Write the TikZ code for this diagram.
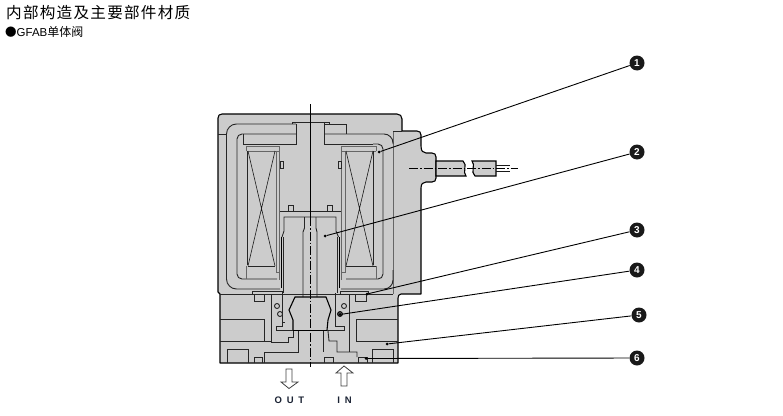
\documentclass[tikz,border=0pt]{standalone}
\usepackage{fontspec}
\setmainfont{Liberation Sans}
\newfontfamily\cjk{Noto Sans CJK SC}
\definecolor{bodygray}{HTML}{CCCCCC}
\definecolor{lab}{HTML}{1A2233}
\tikzset{
  edge/.style={draw=black,line width=1.1pt},
  inner/.style={draw=black!85,line width=.9pt},
  soft/.style={draw=black!60,line width=1pt},
  thin/.style={draw=black!90,line width=.6pt},
  center/.style={draw=black,line width=.7pt,dash pattern=on 9pt off 2pt on 1.5pt off 2pt},
  leader/.style={draw=black,line width=.9pt},
  badge/.style={circle,fill=black!90,text=white,minimum size=15pt,inner sep=0pt,font=\fontsize{10}{10}\selectfont\bfseries},
  tipdot/.style={circle,fill=black,minimum size=3pt,inner sep=0pt},
  hollow/.style={draw=black!75,fill=white,line width=.8pt,line join=miter},
  portlab/.style={text=lab,font=\fontsize{9.5}{10}\selectfont\bfseries}
}
\begin{document}
\begin{tikzpicture}[x=1pt,y=-1pt]
\useasboundingbox (0,0) rectangle (783,415);
% texts
\node[anchor=west,inner sep=0pt] (title) at (6,13) {\cjk\fontsize{15.6}{16}\selectfont\addfontfeatures{LetterSpace=8}内部构造及主要部件材质};
\node[anchor=west,inner sep=0pt] (sub) at (5,31.5) {\fontsize{11.5}{12}\selectfont\cjk ●\rmfamily GFAB\cjk\fontsize{12}{12}\selectfont 单体阀};
% body
\path[edge,fill=bodygray,line join=round]
  (218,118) .. controls (218,115.5) and (219.5,114) .. (222,114) -- (397,114) .. controls (400,114) and (402,116) .. (402,119)
  -- (402,131) -- (417,131) .. controls (419.5,131) and (421,132.5) .. (421,135)
  -- (421,146) .. controls (421,151) and (423,153) .. (426,153) -- (432,153) .. controls (434.5,153) and (436,154.5) .. (436,157)
  -- (436,178) .. controls (436,180.5) and (434.5,182) .. (432,182) -- (426,182)
  .. controls (423,182) and (421,184) .. (421,188) -- (421,294) -- (401,294)
  .. controls (399,294) and (398,296) .. (398,298) -- (398,363) -- (220,363) -- (220,294)
  -- (218,292) -- cycle;
% cable
\path[edge,fill=bodygray] (436,161) -- (463,161) .. controls (468,165) and (462,172) .. (466,176) -- (436,176) -- cycle;
\path[edge,fill=bodygray] (475,161) -- (496,161) -- (496,176) -- (475,176) .. controls (470,172) and (476,165) .. (472,161) -- cycle;
\draw[thin] (496,165) -- (510,165) (496,171) -- (510,171);
% block seam
\draw[soft] (393,131) -- (393,294);
\draw[inner] (393,131) -- (402,131);
\draw[inner] (220,294) -- (252,294) (282,294) -- (340,294) (368,294) -- (393,294);
% frame
\draw[inner] (218,134) -- (226.5,134);
\draw[inner,rounded corners=10pt] (280,289) -- (226.5,289) -- (226.5,124) -- (296,124);
\draw[inner,rounded corners=5pt] (277,279) -- (237,279) -- (237,134) -- (296,134);
\draw[inner] (296,124) -- (296,144) -- (243.5,144) -- (243.5,134);
\draw[inner] (292,124) -- (292,122) -- (329,122) -- (329,124);
\draw[inner] (324,122) -- (324,144) -- (373,144) (324,124) -- (346,124) -- (346,134);
\draw[inner,rounded corners=9pt] (324,134) -- (393,134) -- (393,144);
\draw[inner,rounded corners=5pt] (373,144) -- (383,144) -- (383,279) -- (346,279);
\draw[inner,rounded corners=9pt] (393,270) -- (393,289) -- (341,289);
% coils
\draw[soft] (246.5,279) -- (246.5,266) (246.5,151) -- (246.5,146) -- (279.5,146) -- (279.5,280) (246.5,151) -- (279.5,151) (276,151) -- (276,272) -- (279,272);
\draw[inner] (247.5,151) -- (247.5,265) (247.5,266) -- (275,266);
\draw[thin] (248,151) -- (275,266) (275,151) -- (248,266);
\draw[soft] (376,279) -- (376,266) (376,151) -- (376,146) -- (341,146) -- (341,280) (376,151) -- (341,151) (345,151) -- (345,272) -- (341,272);
\draw[inner] (373,151) -- (373,265) (346,266) -- (376,266);
\draw[thin] (346,151) -- (373,266) (373,151) -- (346,266);
\draw[inner] (280,161) rectangle (283,168) (338,161) rectangle (341,168);
% core
\draw[inner] (280,211) -- (341,211);
\draw[inner] (288,211) -- (288,205.5) -- (293,205.5) -- (293,211) (327,211) -- (327,205.5) -- (332,205.5) -- (332,211);
% plunger
\draw[inner] (282,237) -- (284,231) -- (284,217) -- (336,217) -- (336,231) -- (338.5,237);
\draw[inner] (304.5,217) -- (304.5,228) -- (303,232) -- (303,297) (316,217) -- (316,228) -- (317,232) -- (317,297);
\draw[draw=black,line width=1.5pt] (281.5,237) -- (281.5,288) (339.5,237) -- (339.5,288);
\draw[inner] (283.5,237) -- (283.5,293) (337,237) -- (337,293);
% gaskets
\draw[inner,fill=bodygray] (252,291.5) rectangle (282,294) (340,291.5) rectangle (368,294);
\draw[inner] (254,294) rectangle (264,301) (355,294) rectangle (366,301);
% poppet
\draw[edge] (293,330) -- (293,320) -- (289,310) -- (295,297) -- (326,297) -- (331,310) -- (328,320) -- (327,330);
\draw[inner] (276,330) -- (344,330) -- (344,326) -- (335,326) -- (335,293);
\draw[inner] (276,330) -- (276,326) -- (282,326) -- (282,322) -- (285,322) (282,322) -- (282,294);
\draw[edge] (293,330.5) -- (327,330.5);
% chambers and ports
\draw[inner] (271,294) -- (271,342) -- (288,342) -- (288,337) -- (293,337) -- (293,331);
\draw[inner] (298,331) -- (298,352) -- (264,352) -- (264,363);
\draw[inner] (323,331) -- (323,352);
\draw[inner] (328,331) -- (329,341) -- (337,341) -- (337,352) -- (349,352) -- (357,352) -- (357,357);
\draw[inner] (349,294) -- (349,352);
\draw[inner] (220,319) -- (264,319) -- (264,341) -- (220,341) (264,341) -- (271,341);
\draw[inner] (398,319) -- (356,319) -- (356,341) -- (398,341);
\draw[inner] (227,363) -- (227,349) -- (248,349) -- (248,363) (372,363) -- (372,349) -- (393,349) -- (393,363);
\draw[inner] (254,363) -- (254,357) -- (262,357) -- (262,363) (324,363) -- (324,357) -- (333,357) -- (333,363) (358,363) -- (358,357) -- (367,357) -- (367,363);
% spring
\draw[inner] (277,306) circle[radius=2.5] (280,314) circle[radius=2.5] (344,306) circle[radius=2.5];
\draw[draw=black,line width=1pt,fill=black!60] (340,314) circle[radius=2.4];
% center lines
\draw[draw=black,line width=.7pt] (310.5,104) -- (310.5,217);
\draw[center] (310.5,217) -- (310.5,365);
\draw[draw=black,line width=.7pt] (310.5,365) -- (310.5,367);
\draw[center] (409,168.5) -- (518,168.5);
% arrows
\draw[hollow] (286,369) -- (292,369) -- (292,382) -- (298,382) -- (289,388.5) -- (281,382) -- (286,382) -- cycle;
\draw[hollow] (341,386) -- (347,386) -- (347,373) -- (353,373) -- (344,366) -- (336,373) -- (341,373) -- cycle;
\node[portlab] (out) at (289.5,400) {O\,\,\,U\,\,\,T};
\node[portlab] (in) at (344.5,400) {I\,\,\,N};
% leaders
\node[badge] (n1) at (637,63) {1};
\node[badge] (n2) at (637,152) {2};
\node[badge] (n3) at (637,230) {3};
\node[badge] (n4) at (637,270) {4};
\node[badge] (n5) at (639,315) {5};
\node[badge] (n6) at (637,358) {6};
\node[tipdot] (t1) at (379,152) {};
\node[tipdot] (t2) at (325,236) {};
\node[tipdot] (t3) at (367,294) {};
\node[tipdot] (t4) at (340,314.5) {};
\node[tipdot] (t5) at (387,344) {};
\node[tipdot] (t6) at (366,358.5) {};
\draw[leader] (n1) -- (t1);
\draw[leader] (n2) -- (t2);
\draw[leader] (n3) -- (t3);
\draw[leader] (n4) -- (t4);
\draw[leader] (n5) -- (t5);
\draw[leader] (n6) -- (t6);
\end{tikzpicture}
\end{document}
